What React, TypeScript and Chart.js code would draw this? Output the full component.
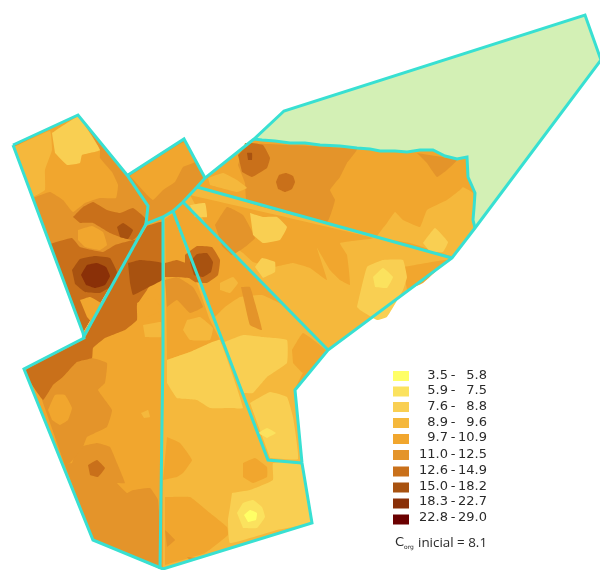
import React, { useEffect, useRef } from "react";
import { Chart, registerables } from "chart.js";

Chart.register(...registerables);

type P = number[];
// class colours, light to dark
const classColors = ["#FFFF66", "#FBE25E", "#F9CF52", "#F5B83C", "#F1A62E", "#E4942A", "#C9701A", "#A85210", "#8A3008", "#6B0000"];
const legendLow = ["3.5", "5.9", "7.6", "8.9", "9.7", "11.0", "12.6", "15.0", "18.3", "22.8"];
const legendHigh = ["5.8", "7.5", "8.8", "9.6", "10.9", "12.5", "14.9", "18.2", "22.7", "29.0"];
const legendRows = [376, 391.5, 407, 423, 439, 455, 471.5, 487.5, 503.5, 519.5];
const textRows = [376, 391, 407, 423, 438, 455, 471, 487, 502, 518];

// zone outlines
const wavyEdge: P[] = [[254, 139], [262, 140], [275, 141], [290, 143], [305, 143], [320, 145], [340, 146], [357, 148], [370, 149], [380, 151], [395, 151], [407, 152], [420, 150], [433, 150], [445, 156], [457, 159], [467, 157], [468, 177], [472, 186], [475, 193], [474, 208], [473, 220], [475, 228]];
const greenZone: P[] = [[284, 111], [585, 15], [601, 60], [475, 228], ...wavyEdge.slice().reverse(), [254, 139]];
const zoneA: P[] = [[13, 145], [78, 115], [127, 175], [148, 206], [146, 224], [83, 333]];
const zoneB: P[] = [[128, 175], [184, 139], [205, 178], [197, 187], [183, 202], [173, 211], [163, 217], [148, 223], [146, 224], [148, 206]];
const zoneE: P[] = [[148, 223], [163, 217], [163, 569], [160, 569], [93, 540], [24, 369], [84, 338], [83, 333]];
const zoneF: P[] = [[163, 217], [173, 211], [268, 460], [302, 463], [312, 523], [163, 569]];
const zoneG: P[] = [[173, 211], [183, 202], [328, 350], [295, 390], [302, 463], [268, 460]];
const zoneH: P[] = [[183, 202], [197, 187], [452, 258], [328, 350]];
const zoneI: P[] = [[205, 178], ...wavyEdge, [452, 258], [197, 187]];

// contour patches, in drawing order: [class index, vertices]
const patchesA: [number, P[]][] = [
  [4, [[14, 147], [78, 116], [100, 150], [100, 158], [112, 172], [118, 185], [116, 198], [100, 198], [85, 203], [73, 212], [63, 200], [50, 192], [33, 198]]],
  [3, [[14, 147], [50, 131], [52, 150], [45, 170], [45, 190], [33, 197]]],
  [2, [[52, 133], [78, 117], [100, 150], [82, 155], [80, 163], [67, 165], [55, 153]]],
  [6, [[73, 217], [83, 207], [93, 202], [107, 210], [120, 213], [133, 208], [145, 218], [143, 230], [133, 240], [120, 237], [110, 233], [93, 223], [80, 223]]],
  [7, [[117, 227], [123, 223], [133, 230], [128, 239], [120, 237]]],
  [4, [[78, 230], [92, 226], [103, 232], [107, 245], [100, 250], [85, 247], [78, 240]]],
  [6, [[50, 244], [72, 238], [80, 247], [103, 252], [115, 245], [136, 240], [83, 333]]],
  [4, [[80, 300], [90, 297], [102, 304], [92, 322], [87, 317]]],
  [7, [[72, 270], [80, 259], [95, 256], [110, 258], [117, 272], [113, 285], [100, 293], [85, 292], [75, 284]]],
  [8, [[81, 275], [87, 265], [97, 263], [106, 267], [110, 276], [105, 285], [95, 288], [86, 285]]],
];
const patchesB: [number, P[]][] = [
  [4, [[130, 176], [184, 142], [195, 162], [183, 167], [175, 182], [163, 190], [153, 200], [147, 195]]],
];
const patchesE: [number, P[]][] = [
  [5, [[64, 463], [72, 463], [77, 448], [97, 443], [110, 447], [117, 463], [125, 483], [117, 483], [127, 493], [133, 490], [150, 488], [158, 500], [160, 565], [93, 540]]],
  [5, [[42, 400], [53, 385], [63, 377], [77, 362], [92, 358], [107, 363], [105, 383], [98, 390], [112, 410], [107, 427], [87, 437], [83, 447], [70, 463], [64, 463]]],
  [4, [[48, 410], [55, 395], [65, 395], [72, 408], [68, 420], [60, 425], [52, 420]]],
  [6, [[88, 465], [97, 460], [105, 468], [98, 477], [90, 475]]],
  [3, [[141, 413], [148, 410], [150, 417], [144, 418]]],
  [6, [[147, 226], [162, 222], [162, 265], [147, 290], [137, 305], [137, 320], [125, 330], [105, 338], [93, 348], [92, 358], [77, 362], [63, 377], [53, 385], [43, 400], [25, 371], [84, 339], [93, 322], [110, 290], [132, 250]]],
  [7, [[128, 263], [140, 260], [162, 263], [162, 280], [147, 288], [133, 295], [130, 283]]],
  [4, [[137, 303], [153, 297], [162, 310], [147, 317], [140, 317]]],
  [3, [[143, 325], [161, 322], [161, 337], [145, 337]]],
];
const patchesF: [number, P[]][] = [
  [4, [[165, 219], [173, 214], [210, 320], [222, 345], [190, 352], [167, 360]]],
  [5, [[165, 280], [177, 277], [193, 287], [203, 307], [190, 313], [177, 300], [167, 307]]],
  [6, [[165, 263], [177, 260], [190, 265], [192, 278], [177, 277], [165, 277]]],
  [3, [[187, 320], [200, 317], [213, 328], [210, 340], [190, 340], [183, 330]]],
  [2, [[167, 360], [190, 352], [210, 343], [220, 340], [243, 408], [230, 408], [210, 408], [197, 400], [177, 398], [167, 383]]],
  [4, [[167, 437], [180, 443], [192, 460], [183, 473], [177, 477], [163, 480]]],
  [4, [[165, 497], [190, 497], [210, 513], [227, 527], [228, 535], [205, 553], [165, 565]]],
  [5, [[165, 530], [175, 540], [167, 547]]],
  [5, [[187, 557], [197, 558], [190, 561]]],
  [2, [[232, 493], [250, 490], [273, 480], [273, 463], [300, 463], [311, 522], [277, 530], [230, 543], [228, 520], [230, 507]]],
  [4, [[243, 463], [255, 458], [267, 467], [267, 477], [253, 483], [243, 477]]],
  [1, [[237, 513], [243, 503], [253, 500], [262, 507], [265, 517], [257, 528], [243, 528]]],
  [0, [[244, 515], [250, 510], [257, 513], [256, 520], [248, 522]]],
];
const patchesG: [number, P[]][] = [
  [3, [[214, 318], [225, 307], [240, 297], [262, 295], [285, 306], [302, 324], [328, 350], [303, 373], [295, 390], [302, 463], [268, 460]]],
  [2, [[222, 343], [243, 335], [263, 337], [287, 340], [287, 363], [267, 377], [253, 393], [244, 393]]],
  [2, [[250, 403], [270, 392], [287, 397], [293, 417], [298, 459], [270, 458]]],
  [1, [[258, 433], [267, 428], [276, 433], [267, 438]]],
  [4, [[292, 350], [303, 333], [327, 352], [303, 373], [293, 363]]],
  [3, [[220, 283], [233, 277], [238, 283], [230, 293], [220, 290]]],
  [5, [[241, 287], [250, 287], [255, 303], [262, 330], [250, 325], [245, 305]]],
  [6, [[185, 255], [197, 246], [212, 247], [220, 260], [218, 275], [207, 283], [195, 282], [185, 275]]],
  [7, [[190, 262], [197, 254], [207, 253], [213, 262], [211, 272], [203, 277], [194, 275]]],
];
const patchesH: [number, P[]][] = [
  [4, [[190, 195], [373, 238], [340, 243], [347, 255], [350, 285], [340, 280], [330, 270], [317, 248], [327, 280], [310, 268], [293, 263], [273, 267], [253, 262], [243, 253], [208, 228]]],
  [5, [[215, 225], [227, 207], [243, 215], [255, 238], [245, 247], [232, 255], [222, 246]]],
  [2, [[250, 213], [263, 217], [277, 217], [287, 227], [280, 240], [263, 243], [253, 235]]],
  [2, [[255, 267], [262, 258], [275, 262], [275, 272], [263, 278]]],
  [2, [[190, 205], [205, 203], [207, 217], [195, 217]]],
  [4, [[403, 267], [447, 260], [423, 283], [407, 290]]],
  [2, [[357, 307], [367, 267], [383, 260], [403, 260], [407, 277], [403, 290], [387, 317], [377, 320], [360, 310]]],
  [1, [[373, 277], [383, 268], [393, 277], [387, 288], [375, 287]]],
];
const patchesI: [number, P[]][] = [
  [5, [[245, 143], [357, 149], [347, 163], [340, 177], [330, 190], [335, 200], [327, 222], [247, 202], [245, 183], [238, 165]]],
  [3, [[208, 178], [223, 173], [237, 180], [247, 188], [237, 192], [210, 185]]],
  [6, [[238, 155], [250, 143], [263, 145], [270, 158], [267, 168], [252, 177], [242, 172]]],
  [7, [[247, 153], [252, 153], [252, 160], [248, 160]]],
  [6, [[276, 182], [279, 175], [286, 173], [293, 176], [295, 182], [292, 189], [285, 192], [278, 189]]],
  [5, [[417, 153], [457, 160], [447, 170], [437, 177], [427, 163]]],
  [3, [[463, 187], [473, 193], [473, 220], [475, 228], [453, 256], [432, 250], [410, 243], [377, 237], [387, 223], [395, 212], [403, 220], [420, 227], [427, 210], [447, 200], [460, 190]]],
  [2, [[423, 243], [435, 228], [448, 242], [443, 252], [430, 252]]],
];

// cyan boundaries
const outerLine: P[] = [[13, 145], [78, 115], [127, 175], [148, 206], [146, 224], [163, 217], [173, 211], [183, 202], [197, 187], [205, 178], [254, 139], [284, 111], [585, 15], [601, 60], [475, 228], [452, 258], [328, 350], [295, 390], [302, 463], [312, 523], [163, 569], [93, 540], [24, 369], [84, 338], [83, 333], [13, 145]];
const cutLines: P[][] = [
  [[128, 175], [184, 139], [205, 178]],
  wavyEdge,
  [[197, 187], [452, 258]],
  [[183, 202], [328, 350]],
  [[173, 211], [268, 460], [302, 463]],
  [[163, 217], [163, 350], [160, 569]],
  [[146, 224], [83, 338]],
];

const toXY = (pts: P[]) => pts.map(([x, y]) => ({ x, y }));
const area = (pts: P[], color: string, tension = 0) => ({
  data: toXY(pts), showLine: true, fill: "shape", backgroundColor: color, borderWidth: 0, borderColor: color, pointRadius: 0, tension,
});
const stroke = (pts: P[]) => ({
  data: toXY(pts), showLine: true, fill: false, borderColor: "#38E0D2", borderWidth: 3, pointRadius: 0, tension: 0, borderJoinStyle: "miter",
});

export default function App() {
  const ref = useRef<HTMLCanvasElement>(null);
  useEffect(() => {
    const c = classColors;
    const patches = (list: [number, P[]][]) => list.map(([k, pts]) => area(pts, c[k], 0.1));
    const painted = [
      area(greenZone, "#D3F0B5"),
      area(zoneA, c[5]), ...patches(patchesA),
      area(zoneB, c[5]), ...patches(patchesB),
      area(zoneE, c[4]), ...patches(patchesE),
      area(zoneF, c[3]), ...patches(patchesF),
      area(zoneG, c[4]), ...patches(patchesG),
      area(zoneH, c[3]), ...patches(patchesH),
      area(zoneI, c[4]), ...patches(patchesI),
      ...cutLines.map(stroke), stroke(outerLine),
      ...legendRows.map((y, i) => area([[393, y - 5], [409, y - 5], [409, y + 5], [393, y + 5]], c[i])),
    ];
    const textPlugin = {
      id: "legendText",
      afterDatasetsDraw(chart: any) {
        const { ctx, scales } = chart;
        const X = (v: number) => scales.x.getPixelForValue(v);
        const Y = (v: number) => scales.y.getPixelForValue(v);
        ctx.save();
        ctx.fillStyle = "#2a2a2a";
        ctx.textBaseline = "middle";
        ctx.font = '13px "DejaVu Sans"';
        textRows.forEach((y, i) => {
          ctx.textAlign = "right";
          ctx.fillText(legendLow[i], X(448), Y(y));
          ctx.fillText(legendHigh[i], X(487), Y(y));
          ctx.textAlign = "center";
          ctx.fillText("-", X(453), Y(y));
        });
        ctx.textAlign = "left";
        ctx.fillText("C", X(395), Y(543));
        ctx.font = '6px "DejaVu Sans"';
        ctx.fillText("org", X(404), Y(547));
        ctx.font = '13.4px "Open Sans"';
        ctx.fillText("inicial = 8.1", X(418), Y(543));
        ctx.restore();
      },
    };
    const chart = new Chart(ref.current as HTMLCanvasElement, {
      type: "scatter",
      data: { datasets: painted.reverse() as any },
      options: {
        animation: false,
        responsive: false,
        events: [],
        layout: { padding: 0 },
        plugins: { legend: { display: false }, tooltip: { enabled: false } },
        scales: {
          x: { type: "linear", min: 0, max: 600, display: false },
          y: { type: "linear", min: 0, max: 570, reverse: true, display: false },
        },
      },
      plugins: [textPlugin],
    } as any);
    return () => chart.destroy();
  }, []);
  return (
    <div style={{ position: "fixed", left: 0, top: 0, width: 600, height: 570, background: "#fff" }}>
      <canvas ref={ref} width={600} height={570} style={{ display: "block", filter: "blur(0.6px)" }} />
    </div>
  );
}
